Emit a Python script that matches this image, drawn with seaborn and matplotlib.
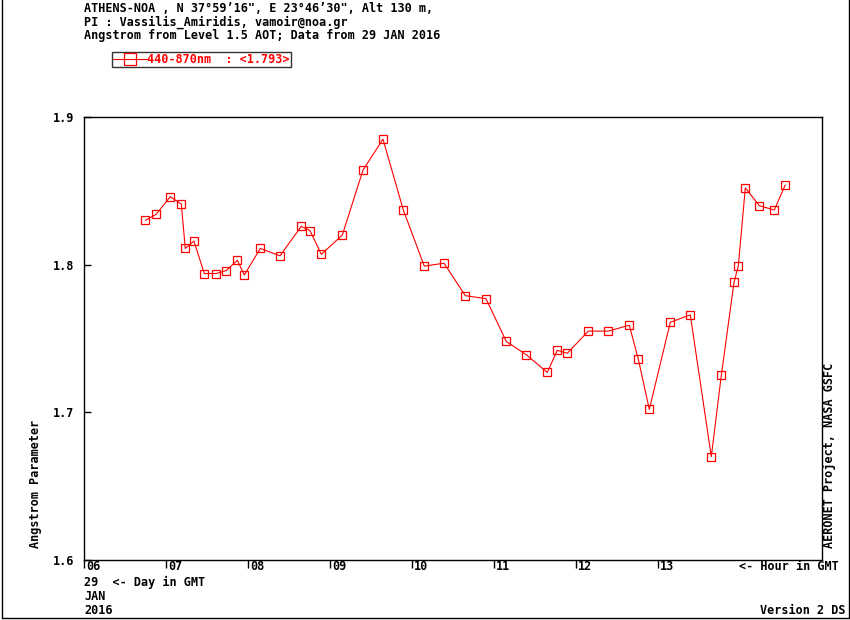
import numpy as np
import pandas as pd
import matplotlib
matplotlib.use("Agg")
import matplotlib.pyplot as plt
import matplotlib.transforms as mtransforms
from matplotlib.lines import Line2D
import seaborn as sns

# horas GMT (29 JAN 2016) e expoente de Angstrom 440-870nm
hours = [6.748, 6.878, 7.052, 7.187, 7.235, 7.341, 7.467, 7.613, 7.735, 7.870,
         7.955, 8.150, 8.390, 8.650, 8.756, 8.894, 9.150, 9.402, 9.646, 9.894,
         10.150, 10.390, 10.650, 10.902, 11.150, 11.394, 11.650, 11.771, 11.894, 12.150,
         12.394, 12.650, 12.760, 12.894, 13.150, 13.394, 13.650, 13.772, 13.927, 13.979,
         14.065, 14.235, 14.418, 14.552]
angstrom = [1.830, 1.834, 1.846, 1.841, 1.811, 1.816, 1.794, 1.794, 1.796, 1.803,
            1.793, 1.811, 1.806, 1.826, 1.823, 1.807, 1.820, 1.864, 1.885, 1.837,
            1.799, 1.801, 1.779, 1.777, 1.748, 1.739, 1.727, 1.742, 1.740, 1.755,
            1.755, 1.759, 1.736, 1.702, 1.761, 1.766, 1.670, 1.725, 1.788, 1.799,
            1.852, 1.840, 1.837, 1.854]
hour_ticks = [6, 7, 8, 9, 10, 11, 12, 13]
hour_labels = ["06", "07", "08", "09", "10", "11", "12", "13"]
angstrom_ticks = [1.6, 1.7, 1.8, 1.9]
angstrom_labels = ["1.6", "1.7", "1.8", "1.9"]
series_label = "440-870nm  : <1.793>"

df = pd.DataFrame({"hour": hours, "angstrom": angstrom})

sns.set_style("white")
plt.rcParams["font.family"] = ["DejaVu Sans Mono"]
plt.rcParams["font.weight"] = "bold"
plt.rcParams["font.size"] = 8.5
plt.rcParams["text.color"] = "black"
plt.rcParams["xtick.color"] = "black"
plt.rcParams["ytick.color"] = "black"

W, H = 850, 620
fig = plt.figure(figsize=(W / 100, H / 100), dpi=100)
ax = fig.add_axes([84 / W, 1 - 560 / H, (822 - 84) / W, (560 - 117) / H])

sns.lineplot(data=df, x="hour", y="angstrom", ax=ax, color="red", linewidth=0.8,
             marker="s", markersize=6.2, markerfacecolor="none",
             markeredgecolor="red", markeredgewidth=0.9)

ax.set_xlim(6, 15)
ax.set_ylim(1.6, 1.9)
ax.set_xticks(hour_ticks)
ax.set_xticklabels(hour_labels)
ax.set_yticks(angstrom_ticks)
ax.set_yticklabels(angstrom_labels)
ax.set_xlabel("")
ax.set_ylabel("")
for s in ax.spines.values():
    s.set_color("black")
    s.set_linewidth(1.0)
ax.tick_params(axis="y", left=True, direction="in", length=5, width=1, pad=7)
ax.tick_params(axis="x", bottom=True, direction="out", length=6, width=1, pad=-6)
shift = mtransforms.ScaledTranslation(2 / 100, 0, fig.dpi_scale_trans)
for lbl in ax.get_xticklabels():
    lbl.set_horizontalalignment("left")
    lbl.set_verticalalignment("top")
    lbl.set_transform(lbl.get_transform() + shift)

# textos do topo
def ftext(x, y, s, **kw):
    fig.text(x / W, 1 - y / H, s, color="black", **kw)

ftext(84, 9, "ATHENS-NOA , N 37\u00b059\u201916\", E 23\u00b046\u201930\", Alt 130 m,", va="center")
ftext(84, 22.5, "PI : Vassilis_Amiridis, vamoir@noa.gr", va="center")
ftext(84, 36, "Angstrom from Level 1.5 AOT; Data from 29 JAN 2016", va="center")

# legenda
handle = Line2D([], [], color="red", linewidth=0.8, marker="s", markersize=9,
                markerfacecolor="none", markeredgecolor="red", markeredgewidth=0.9)
leg = fig.legend([handle], [series_label], loc="upper left",
                 bbox_to_anchor=(112 / W, 1 - 52 / H), frameon=True, fancybox=False,
                 edgecolor="black", borderpad=0.1, handlelength=2.9, handletextpad=0.0,
                 borderaxespad=0, markerscale=1)
leg.get_frame().set_linewidth(1.0)
for t in leg.get_texts():
    t.set_color("red")

# rotulos laterais e inferiores
ftext(35, 548, "Angstrom Parameter", rotation=90, va="bottom", ha="center")
ftext(830, 548, "AERONET Project, NASA GSFC", rotation=90, va="bottom", ha="center")
ftext(84, 582, "29  <- Day in GMT", va="center")
ftext(84, 597, "JAN", va="center")
ftext(84, 611, "2016", va="center")
ftext(739, 567, "<- Hour in GMT", va="center")
ftext(846, 610, "Version 2 DS", va="center", ha="right")

# moldura da figura
for xs, ys in [([1.5, 1.5], [0, 618]), ([848.5, 848.5], [0, 618]), ([1.5, 848.5], [617.5, 617.5])]:
    fig.add_artist(Line2D([x / W for x in xs], [1 - y / H for y in ys],
                          color="black", linewidth=1.0, transform=fig.transFigure))

fig.savefig("out.png", dpi=100)
